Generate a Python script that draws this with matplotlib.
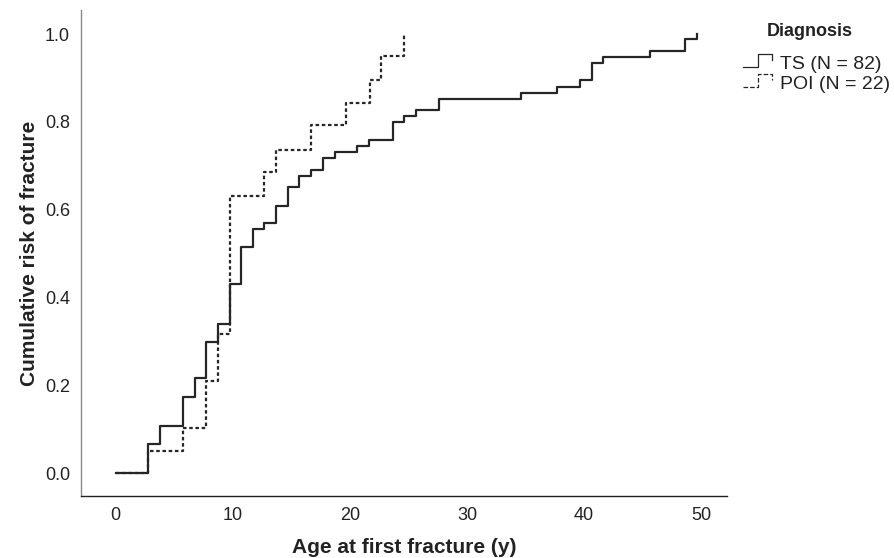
import matplotlib
matplotlib.use("Agg")
import matplotlib.pyplot as plt
from matplotlib.lines import Line2D
from matplotlib.legend_handler import HandlerBase

plt.rcParams['font.family'] = ['Liberation Sans', 'DejaVu Sans']

# Kaplan-Meier style cumulative risk (step times in years, cumulative risk after each step)
ts_times = [0, 2.8, 3.8, 5.75, 6.75, 7.75, 8.75, 9.75, 10.7, 11.7, 12.7, 13.7, 14.7,
            15.7, 16.7, 17.7, 18.7, 20.65, 21.65, 23.65, 24.65, 25.65, 27.65, 34.65,
            37.65, 39.65, 40.65, 41.65, 45.65, 48.6, 49.6]
ts_risk = [0.0, 0.066, 0.107, 0.174, 0.216, 0.298, 0.339, 0.432, 0.516, 0.556, 0.569,
           0.609, 0.651, 0.677, 0.690, 0.717, 0.731, 0.745, 0.759, 0.800, 0.814, 0.827,
           0.853, 0.867, 0.880, 0.895, 0.935, 0.948, 0.962, 0.989, 1.0]

poi_times = [0, 2.8, 5.75, 7.75, 8.75, 9.75, 12.7, 13.7, 16.7, 19.7, 21.7, 22.7, 24.65]
poi_risk = [0.0, 0.051, 0.104, 0.210, 0.316, 0.632, 0.686, 0.737, 0.792, 0.844, 0.895,
            0.950, 1.0]

x_ticks = [0, 10, 20, 30, 40, 50]
y_ticks = [0.0, 0.2, 0.4, 0.6, 0.8, 1.0]
labels = ['TS (N = 82)', 'POI (N = 22)']
legend_title = 'Diagnosis'

COL = '#262626'
DOT = (0, (1.6, 1.2))


class StepHandler(HandlerBase):
    def create_artists(self, legend, orig_handle, xdescent, ydescent, width, height,
                       fontsize, trans):
        x0 = -xdescent
        y0 = -ydescent
        xs = [x0, x0 + 0.5 * width, x0 + 0.5 * width, x0 + 0.95 * width, x0 + 0.95 * width]
        ys = [y0 + 0.15 * height, y0 + 0.15 * height, y0 + 1.05 * height,
              y0 + 1.05 * height, y0 + 0.6 * height]
        ln = Line2D(xs, ys, color=orig_handle.get_color(),
                    linestyle=orig_handle.get_linestyle(),
                    linewidth=0.9, transform=trans)
        return [ln]


fig = plt.figure(figsize=(8.94, 5.58), dpi=100)
ax = fig.add_axes([81 / 894, 1 - 496 / 558, (727 - 81) / 894, (496 - 10) / 558])

h1, = ax.step(ts_times, ts_risk, where='post', color=COL, lw=1.6)
h2, = ax.step(poi_times, poi_risk, where='post', color=COL, lw=1.6, linestyle=DOT)

ax.set_xlim(-2.95, 52.2)
ax.set_ylim(-0.052, 1.055)
ax.set_xticks(x_ticks)
ax.set_xticklabels([str(v) for v in x_ticks])
ax.set_yticks(y_ticks)
ax.set_yticklabels([f'{v:.1f}' for v in y_ticks])
ax.tick_params(length=0, labelsize=13, colors='#222222', pad=8)
for s in ['top', 'right']:
    ax.spines[s].set_visible(False)
ax.spines['left'].set_color('#888888')
ax.spines['bottom'].set_color('#222222')
ax.spines['left'].set_linewidth(1.0)
ax.spines['bottom'].set_linewidth(1.0)

ax.set_xlabel('Age at first fracture (y)', fontsize=15, fontweight='bold', labelpad=10,
              color='#222222')
ax.set_ylabel('Cumulative risk of fracture', fontsize=15, fontweight='bold', labelpad=4,
              color='#222222')

p1 = Line2D([], [], color=COL, linestyle='-')
p2 = Line2D([], [], color=COL, linestyle=(0, (1.5, 1.2)))
leg = fig.legend([p1, p2], labels, loc='upper left',
                 bbox_to_anchor=(743 / 894, 1 - 55 / 558), frameon=False, fontsize=14,
                 handler_map={Line2D: StepHandler()}, handlelength=1.55,
                 handletextpad=0.36, labelspacing=0.12, borderpad=0, borderaxespad=0)
for t in leg.get_texts():
    t.set_color('#222222')
fig.text(810 / 894, 1 - 31 / 558, legend_title, fontsize=13, fontweight='bold',
         ha='center', va='center', color='#222222')

fig.savefig('out.png', dpi=100)
